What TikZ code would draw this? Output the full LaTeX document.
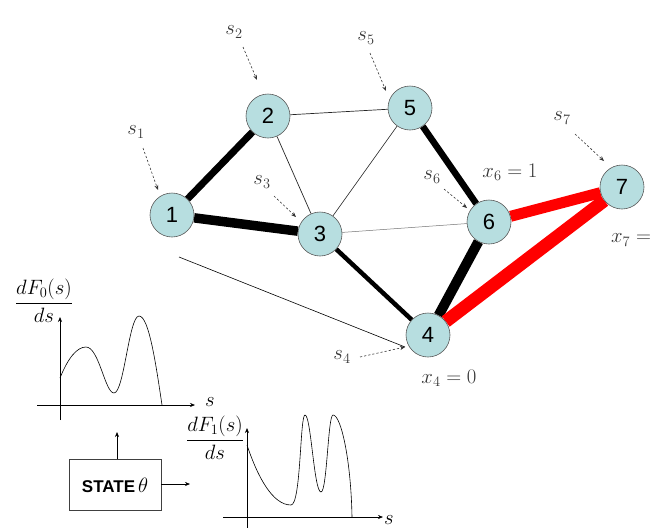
\documentclass[tikz,border=0pt]{standalone}
\usepackage{amsmath}
\usepackage{fontspec}
\setsansfont{Liberation Sans}
\usetikzlibrary{arrows.meta,backgrounds}
\definecolor{nodefill}{RGB}{183,222,224}
\definecolor{lab}{RGB}{55,55,55}
\definecolor{edgered}{RGB}{255,0,0}
\tikzset{
  vnode/.style={circle, draw=black!65, line width=0.6pt, fill=nodefill, minimum size=44pt, inner sep=0pt, font=\fontsize{22}{22}\selectfont\sffamily},
  lbl/.style={font=\fontsize{20}{24}\selectfont, text=lab, inner sep=0pt},
  sarr/.style={dash pattern=on 2.2pt off 2pt, line width=0.6pt, draw=black!80, -{Stealth[length=5pt,width=4pt]}},
  axisarr/.style={line width=0.6pt, -{Stealth[length=5pt,width=4pt]}},
  curve/.style={line width=0.6pt},
  thinedge/.style={line width=0.7pt, draw=black!85},
}
\begin{document}
\begin{tikzpicture}[x=1pt,y=-1pt]
\useasboundingbox (0,0) rectangle (654,528);
% graph nodes
\node[vnode] (n1) at (172,215) {1};
\node[vnode] (n2) at (268,116) {2};
\node[vnode] (n3) at (320,234) {3};
\node[vnode] (n4) at (428,335) {4};
\node[vnode] (n5) at (410,108) {5};
\node[vnode] (n6) at (489,222) {6};
\node[vnode] (n7) at (622,187) {7};
% edges
\begin{pgfonlayer}{background}
\draw[line width=7pt] (n1) -- (n2);
\draw[line width=9.5pt] (n1) -- (n3);
\draw[thinedge] (n2) -- (n5);
\draw[thinedge] (n2) -- (n3);
\draw[thinedge, line width=0.6pt] (n5) -- (n3);
\draw[line width=0.5pt, draw=black!55] (n3) -- (n6);
\draw[line width=6.5pt] (n5) -- (n6);
\draw[line width=4.5pt] (n3) -- (n4);
\draw[line width=10pt] (n6) -- (n4);
\draw[line width=11pt, edgered] (n6) -- (n7);
\draw[line width=13pt, edgered] (n7) -- (n4);
\end{pgfonlayer}
% s labels and dashed pointers
\node[lbl] (s1) at (136,132) {$s_1$};
\node[lbl] (s2) at (234,32) {$s_2$};
\node[lbl] (s3) at (262,182) {$s_3$};
\node[lbl] (s4) at (342,357) {$s_4$};
\node[lbl] (s5) at (366,38) {$s_5$};
\node[lbl] (s6) at (432,177) {$s_6$};
\node[lbl] (s7) at (562,118) {$s_7$};
\coordinate (t1) at (158,190);
\coordinate (t2) at (257,80);
\coordinate (t3) at (296,217);
\coordinate (t4) at (405,347);
\coordinate (t5) at (386,91);
\coordinate (t6) at (467,208);
\coordinate (t7) at (604,161);
\draw[sarr] (143,148) -- (t1);
\draw[sarr] (243,47) -- (t2);
\draw[sarr] (274,196) -- (t3);
\draw[sarr] (360,357) -- (t4);
\draw[sarr] (370,53) -- (t5);
\draw[sarr] (444,189) -- (t6);
\draw[sarr] (575,134) -- (t7);
\coordinate (lstart) at (179,257);
\draw[line width=0.6pt] (lstart) -- (t4);
% x labels
\node[lbl] (x6) at (510,172) {$x_6=1$};
\node[lbl] (x4) at (449,378) {$x_4=0$};
\node[lbl, anchor=west] (x7) at (611,240) {$x_7=$};
% plot 1
\node[lbl, text=black] (f0) at (44,301) {$\dfrac{dF_0(s)}{ds}$};
\draw[axisarr] (37,405) -- (195,405);
\draw[axisarr] (60,420) -- (60,317);
\node[lbl, text=black] (sx0) at (210,402) {$s$};
\draw[curve] (60,378) .. controls (68,358) and (77,347) .. (86,347)
  .. controls (99,347) and (105,393) .. (114,393)
  .. controls (124,393) and (129,316) .. (139,316)
  .. controls (149,316) and (156,365) .. (162,405);
% plot 2
\node[lbl, text=black] (f1) at (215,438) {$\dfrac{dF_1(s)}{ds}$};
\draw[axisarr] (223,517) -- (383,517);
\draw[axisarr] (247,528) -- (247,428);
\node[lbl, text=black] (sx1) at (389,520) {$s$};
\draw[curve] (247,445) .. controls (258,478) and (273,505) .. (291,505)
  .. controls (301,505) and (300,415) .. (305,415)
  .. controls (311,415) and (314,492) .. (321,492)
  .. controls (327,492) and (328,415) .. (333,415)
  .. controls (341,415) and (351,460) .. (352,517);
% state box
\node[draw=black!75, line width=0.6pt, minimum width=92pt, minimum height=51pt, inner sep=0pt] (st) at (115,485) {\fontsize{17}{20}\selectfont\sffamily\bfseries STATE\,\fontsize{21}{24}\selectfont$\theta$};
\coordinate (upend) at (117,432);
\coordinate (rend) at (190,484);
\draw[axisarr] (st.north -| upend) -- (upend);
\draw[axisarr] (st.east |- rend) -- (rend);
\end{tikzpicture}
\end{document}
